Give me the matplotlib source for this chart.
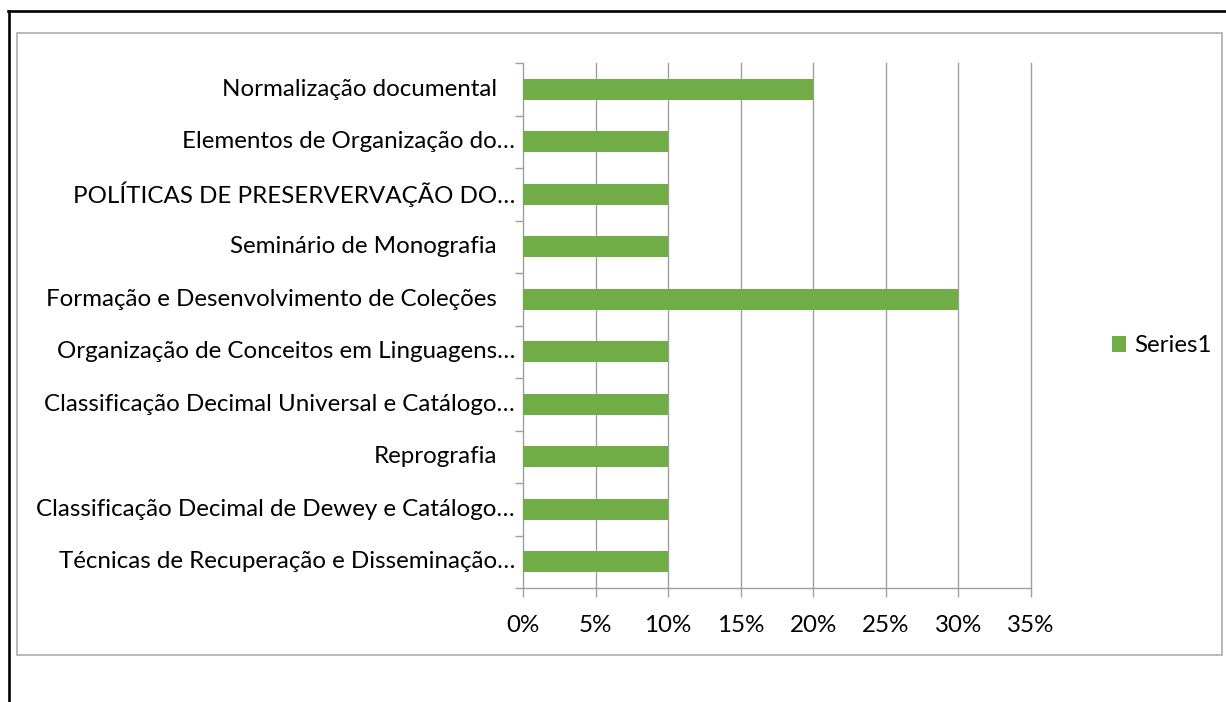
import matplotlib
matplotlib.use("Agg")
import matplotlib.pyplot as plt
from matplotlib.patches import Rectangle
from matplotlib.lines import Line2D
from matplotlib.transforms import blended_transform_factory, offset_copy
import numpy as np

categories = [
    "Normalização documental",
    "Elementos de Organização do…",
    "POLÍTICAS DE PRESERVERVAÇÃO DO…",
    "Seminário de Monografia",
    "Formação e Desenvolvimento de Coleções",
    "Organização de Conceitos em Linguagens…",
    "Classificação Decimal Universal e Catálogo…",
    "Reprografia",
    "Classificação Decimal de Dewey e Catálogo…",
    "Técnicas de Recuperação e Disseminação…",
]
values = [0.20, 0.10, 0.10, 0.10, 0.30, 0.10, 0.10, 0.10, 0.10, 0.10]
xticks = [0.00, 0.05, 0.10, 0.15, 0.20, 0.25, 0.30, 0.35]
xticklabels = ["0%", "5%", "10%", "15%", "20%", "25%", "30%", "35%"]
series_name = "Series1"

plt.rcParams['font.family'] = ['Lato', 'DejaVu Sans']
FS = 17.4
GREEN = "#70AD47"
GRID = "#A0A0A0"

W, H = 1226, 702
fig = plt.figure(figsize=(W / 100, H / 100), dpi=100)

# outer black frame (top and left)
fig.add_artist(Line2D([8 / W, 1.0], [1 - 11 / H, 1 - 11 / H], color="black", lw=1.9, transform=fig.transFigure))
fig.add_artist(Line2D([9 / W, 9 / W], [1 - 11 / H, 0], color="black", lw=1.9, transform=fig.transFigure))
# chart area gray border
fig.add_artist(Rectangle((17 / W, 1 - 655 / H), (1222 - 17) / W, (655 - 33) / H,
                         fill=False, ec="#A6A6A6", lw=1.1, transform=fig.transFigure))

x0, x1, y0, y1 = 523, 1031, 63, 588
ax = fig.add_axes([x0 / W, 1 - y1 / H, (x1 - x0) / W, (y1 - y0) / H])

n = len(categories)
pos = np.arange(n)
ax.barh(pos, values, height=0.4, color=GREEN, label=series_name, zorder=3)
ax.set_xlim(0, 0.35)
ax.set_ylim(n - 0.5, -0.5)

ax.set_xticks(xticks)
ax.set_xticklabels(xticklabels, fontsize=FS)
for xv in xticks[1:]:
    ax.axvline(xv, color=GRID, lw=1.0, zorder=0, clip_on=False)
ax.tick_params(axis="x", length=6.5, width=1.0, color=GRID, pad=13)

# y-axis ticks at category boundaries
ax.set_yticks(np.arange(-0.5, n, 1.0))
ax.set_yticklabels([])
ax.tick_params(axis="y", length=6, width=1.0, color=GRID)

for s in ["top", "right"]:
    ax.spines[s].set_visible(False)
for s in ["left", "bottom"]:
    ax.spines[s].set_color(GRID)
    ax.spines[s].set_linewidth(1.0)

trans = blended_transform_factory(ax.transAxes, ax.transData)
for i, lab in enumerate(categories):
    off = -8 if lab.endswith("…") else -26
    t = offset_copy(trans, fig=fig, x=off, y=0, units="dots")
    ax.text(0, i, lab, transform=t, ha="right", va="center", fontsize=FS)

leg = fig.legend(loc="center left", bbox_to_anchor=(1090 / W, 1 - 346 / H), frameon=False,
                 fontsize=FS, handlelength=0.6, handleheight=0.6, handletextpad=0.35)

fig.savefig("out.png", dpi=100)
